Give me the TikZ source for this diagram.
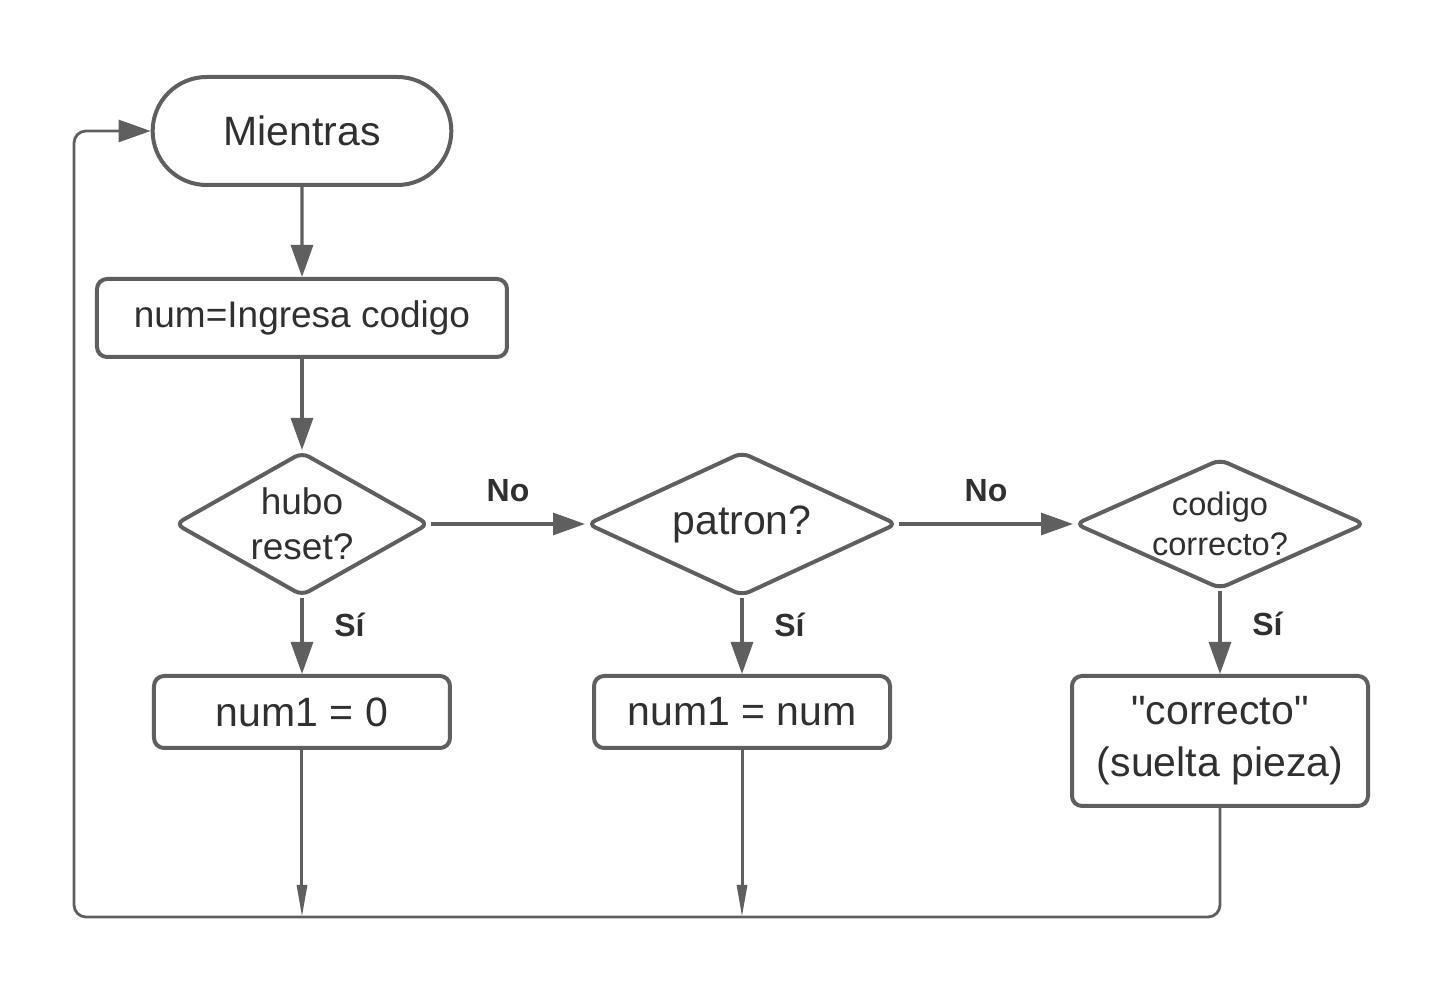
\documentclass[tikz,border=0pt]{standalone}
\usepackage{fontspec}
\setmainfont{Liberation Sans}[Ligatures=TeXOff]
\usetikzlibrary{shapes.geometric,shapes.misc,arrows.meta,positioning}
\definecolor{linea}{HTML}{5F5F5F}
\definecolor{texto}{HTML}{303030}

\begin{document}
\begin{tikzpicture}[on grid,line width=2pt,
   every node/.style={text=texto,font=\fontsize{20.5}{27}\selectfont},
   inicio/.style={draw=linea,rounded rectangle,minimum width=156pt,minimum height=54pt},
   proceso/.style={draw=linea,rectangle,rounded corners=5pt,align=center,minimum width=148pt,minimum height=36pt},
   decision/.style={draw=linea,diamond,rounded corners=4pt,inner sep=0pt,align=center},
   etiqueta/.style={font=\bfseries\fontsize{16}{19}\selectfont},
   flecha/.style={linea,line width=1.6pt,-{Triangle[length=16pt,width=11pt]}},
   fina/.style={linea,line width=1.5pt,-{Triangle[length=16pt,width=5pt]}}]
   \useasboundingbox (-151pt,65.5pt) rectangle (573pt,-431.5pt);
   \node[inicio] (mientras) {Mientras};
   \node[proceso,minimum width=205pt,minimum height=39pt,font=\fontsize{18.5}{22}\selectfont] (ingresa) [below=93.5pt of mientras] {num=Ingresa codigo};
   \node[decision,aspect=1.74,minimum width=127pt,minimum height=72pt,font=\fontsize{18.5}{22.5}\selectfont] (reset) [below=103pt of ingresa] {hubo\\reset?};
   \node[decision,aspect=2.15,minimum width=155pt,minimum height=72pt] (patron) [right=220pt of reset] {patron?};
   \node[decision,aspect=2.2,minimum width=145pt,minimum height=65pt,font=\fontsize{16.3}{20}\selectfont] (codigo) [right=239pt of patron] {codigo\\correcto?};
   \node[proceso] (cero) [below=94pt of reset] {num1 = 0};
   \node[proceso] (igual) [below=94pt of patron] {num1 = num};
   \node[proceso,minimum height=65pt,font=\fontsize{20.5}{26}\selectfont] (correcto) [below=108.5pt of codigo] {"correcto"\\(suelta pieza)};
   \coordinate (esq) at (-114pt,-393pt);
   \path[flecha]
   (mientras) edge (ingresa)
   (ingresa) edge (reset)
   (reset) edge node[etiqueta,above=7pt] {No} (patron)
           edge node[etiqueta,right=12pt,pos=0.35] {Sí} (cero)
   (patron) edge node[etiqueta,above=7pt] {No} (codigo)
            edge node[etiqueta,right=12pt,pos=0.35] {Sí} (igual)
   (codigo) edge node[etiqueta,right=12pt,pos=0.4] {Sí} (correcto);
   \draw[flecha,line width=1.4pt,rounded corners=6pt] (correcto.south) |- (esq) |- (mientras.west);
   \draw[fina] (cero) -- (cero |- esq);
   \draw[fina] (igual) -- (igual |- esq);
\end{tikzpicture}
\end{document}
